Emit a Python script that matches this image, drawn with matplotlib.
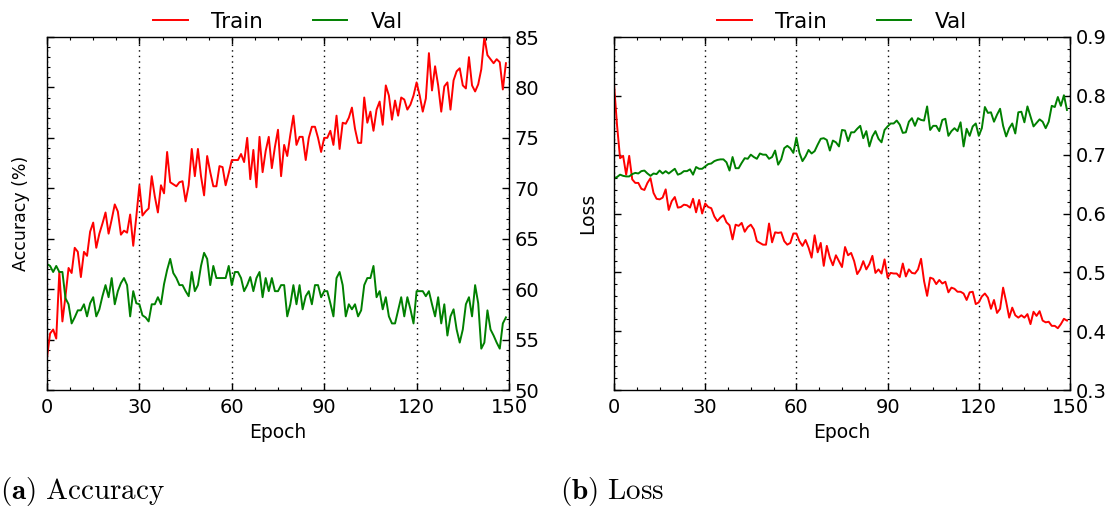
import numpy as np
import matplotlib
matplotlib.use("Agg")
import matplotlib.pyplot as plt
from matplotlib.ticker import MultipleLocator

# Per-epoch training curves (150 epochs)
epochs = np.arange(150)

train_acc = [
    53.2, 55.6, 56.0, 55.1, 61.7, 56.8, 59.3, 62.1, 61.6, 64.1,
    63.7, 61.2, 63.7, 63.3, 65.7, 66.6, 64.1, 65.5, 66.5, 67.6,
    65.5, 66.9, 68.4, 67.7, 65.4, 65.8, 65.6, 67.4, 64.3, 67.2,
    70.3, 67.3, 67.7, 68.0, 71.2, 69.2, 67.6, 70.3, 69.5, 73.6,
    70.6, 70.4, 70.2, 70.6, 70.7, 68.7, 70.3, 73.9, 71.2, 73.9,
    71.2, 69.3, 73.2, 71.6, 70.2, 70.2, 72.2, 72.1, 70.3, 71.5,
    72.8, 72.8, 72.8, 73.4, 72.6, 75.0, 70.9, 73.8, 70.1, 75.1,
    71.6, 73.7, 75.1, 72.0, 74.1, 75.8, 71.2, 74.3, 73.2, 75.3,
    77.2, 74.3, 75.1, 75.1, 72.8, 75.0, 76.1, 76.1, 75.0, 73.6,
    75.0, 75.0, 75.7, 74.3, 77.2, 73.9, 76.5, 76.4, 77.0, 78.0,
    75.9, 74.5, 74.5, 79.0, 76.5, 77.6, 75.7, 77.8, 78.6, 76.3,
    80.2, 79.2, 76.8, 78.7, 77.2, 79.0, 78.8, 77.8, 78.3, 79.2,
    80.5, 79.2, 77.6, 78.9, 83.4, 79.7, 82.1, 80.2, 77.6, 80.1,
    80.5, 77.8, 80.7, 81.6, 81.9, 80.2, 79.9, 83.0, 80.2, 79.6,
    80.3, 81.8, 85.0, 83.2, 82.8, 82.4, 82.8, 82.5, 79.8, 82.4,
]

val_acc = [
    62.5, 62.3, 61.7, 62.3, 61.7, 61.7, 59.1, 58.5, 56.6, 57.2,
    57.9, 57.9, 58.5, 57.3, 58.6, 59.2, 57.3, 58.0, 59.3, 60.4,
    59.2, 61.1, 58.5, 59.8, 60.6, 61.1, 60.4, 57.3, 59.8, 58.6,
    58.5, 57.4, 57.2, 56.8, 58.5, 58.5, 59.2, 58.5, 60.5, 61.9,
    63.0, 61.6, 61.1, 60.4, 60.4, 59.8, 59.3, 61.7, 59.8, 60.4,
    62.3, 63.6, 63.0, 60.4, 62.3, 61.1, 61.1, 61.1, 61.1, 62.3,
    60.4, 61.7, 61.7, 61.1, 59.8, 60.4, 61.2, 59.8, 61.1, 61.7,
    59.2, 61.1, 59.8, 61.1, 59.8, 59.8, 60.4, 60.4, 57.3, 58.5,
    60.4, 58.5, 60.4, 58.0, 59.3, 59.8, 58.5, 60.4, 60.4, 59.2,
    59.8, 59.8, 58.6, 57.3, 61.1, 61.7, 60.4, 57.3, 58.5, 58.0,
    58.5, 57.3, 57.9, 60.4, 61.1, 61.1, 62.3, 59.2, 59.8, 58.0,
    59.2, 57.3, 56.6, 56.6, 57.9, 59.2, 57.3, 59.2, 58.0, 56.6,
    59.8, 59.8, 59.8, 59.3, 59.8, 58.5, 57.3, 59.2, 56.6, 58.5,
    55.4, 57.3, 58.0, 56.0, 54.7, 56.0, 58.5, 59.2, 57.3, 60.4,
    58.6, 54.1, 54.7, 57.9, 56.0, 55.4, 54.7, 54.1, 56.6, 57.2,
]

train_loss = [
    0.820, 0.750, 0.694, 0.698, 0.666, 0.698, 0.658, 0.652, 0.652, 0.642,
    0.640, 0.652, 0.660, 0.635, 0.625, 0.624, 0.627, 0.641, 0.606, 0.621,
    0.628, 0.610, 0.611, 0.615, 0.614, 0.610, 0.625, 0.602, 0.623, 0.600,
    0.617, 0.611, 0.609, 0.595, 0.587, 0.593, 0.597, 0.585, 0.580, 0.556,
    0.581, 0.579, 0.584, 0.569, 0.577, 0.581, 0.573, 0.553, 0.550, 0.547,
    0.547, 0.583, 0.551, 0.568, 0.567, 0.568, 0.553, 0.547, 0.550, 0.566,
    0.566, 0.553, 0.545, 0.555, 0.542, 0.525, 0.563, 0.534, 0.550, 0.511,
    0.545, 0.525, 0.512, 0.529, 0.519, 0.509, 0.543, 0.529, 0.533, 0.519,
    0.497, 0.505, 0.519, 0.505, 0.514, 0.528, 0.499, 0.505, 0.498, 0.522,
    0.491, 0.499, 0.498, 0.498, 0.492, 0.515, 0.493, 0.505, 0.499, 0.498,
    0.505, 0.523, 0.485, 0.460, 0.491, 0.489, 0.480, 0.487, 0.481, 0.484,
    0.466, 0.474, 0.472, 0.467, 0.467, 0.464, 0.453, 0.466, 0.467, 0.446,
    0.449, 0.459, 0.464, 0.457, 0.438, 0.453, 0.431, 0.438, 0.474, 0.450,
    0.423, 0.440, 0.427, 0.423, 0.427, 0.423, 0.429, 0.412, 0.433, 0.426,
    0.434, 0.418, 0.415, 0.416, 0.409, 0.409, 0.405, 0.412, 0.421, 0.418,
]

val_loss = [
    0.660, 0.662, 0.666, 0.664, 0.663, 0.663, 0.667, 0.669, 0.668, 0.672,
    0.673, 0.668, 0.664, 0.668, 0.667, 0.673, 0.668, 0.672, 0.668, 0.672,
    0.676, 0.666, 0.668, 0.672, 0.672, 0.675, 0.666, 0.679, 0.676, 0.676,
    0.680, 0.684, 0.685, 0.689, 0.691, 0.692, 0.692, 0.687, 0.673, 0.696,
    0.677, 0.677, 0.686, 0.694, 0.693, 0.700, 0.696, 0.693, 0.702, 0.700,
    0.700, 0.693, 0.696, 0.707, 0.683, 0.692, 0.711, 0.715, 0.711, 0.703,
    0.729, 0.703, 0.689, 0.697, 0.708, 0.702, 0.706, 0.717, 0.727, 0.728,
    0.725, 0.707, 0.724, 0.721, 0.714, 0.742, 0.741, 0.723, 0.738, 0.738,
    0.744, 0.749, 0.728, 0.740, 0.714, 0.731, 0.740, 0.727, 0.721, 0.742,
    0.748, 0.753, 0.753, 0.758, 0.751, 0.737, 0.738, 0.756, 0.762, 0.749,
    0.762, 0.759, 0.758, 0.782, 0.742, 0.749, 0.749, 0.740, 0.759, 0.761,
    0.732, 0.740, 0.745, 0.740, 0.755, 0.714, 0.744, 0.732, 0.748, 0.753,
    0.732, 0.745, 0.781, 0.771, 0.772, 0.756, 0.768, 0.778, 0.749, 0.731,
    0.745, 0.753, 0.736, 0.772, 0.773, 0.755, 0.782, 0.765, 0.748, 0.754,
    0.760, 0.756, 0.745, 0.756, 0.783, 0.781, 0.798, 0.783, 0.801, 0.776,
]

plt.rcParams["mathtext.fontset"] = "cm"
plt.rcParams["font.family"] = "DejaVu Sans"

fig = plt.figure(figsize=(11.11, 5.07), dpi=100, facecolor="white")
ax_acc = fig.add_axes([47 / 1111, 1 - 390 / 507, 462 / 1111, 353 / 507])
ax_loss = fig.add_axes([614 / 1111, 1 - 390 / 507, 456 / 1111, 353 / 507])


def style_axes(ax, ylim, ymajor, yminor, ylabel, ylabel_size):
    ax.set_xlim(0, 150)
    ax.set_ylim(*ylim)
    ax.xaxis.set_major_locator(MultipleLocator(30))
    ax.xaxis.set_minor_locator(MultipleLocator(7.5))
    ax.yaxis.set_major_locator(MultipleLocator(ymajor))
    ax.yaxis.set_minor_locator(MultipleLocator(yminor))
    ax.tick_params(axis="both", which="both", direction="in",
                   top=True, bottom=True, left=True, right=True,
                   labelleft=False, labelright=True, colors="black")
    ax.tick_params(axis="both", which="major", length=5, width=1, labelsize=14)
    ax.tick_params(axis="both", which="minor", length=2.5, width=0.8)
    ax.tick_params(axis="x", which="major", pad=6)
    ax.tick_params(axis="y", which="major", pad=4)
    ax.grid(True, axis="x", which="major", linestyle=(0, (1, 3)),
            color="black", linewidth=1.0)
    for sp in ax.spines.values():
        sp.set_linewidth(1.0)
    ax.set_xlabel("Epoch", fontsize=13.5, labelpad=4)
    ax.set_ylabel(ylabel, fontsize=ylabel_size, labelpad=12)
    ax.legend(loc="lower center", bbox_to_anchor=(0.5, 0.99), ncol=2,
              frameon=False, fontsize=15.5, handlelength=1.6,
              handletextpad=1.1, columnspacing=2.3, borderaxespad=0.0)


ax_acc.plot(epochs, train_acc, color="#ff0000", lw=1.4, label="Train")
ax_acc.plot(epochs, val_acc, color="#008000", lw=1.4, label="Val")
style_axes(ax_acc, (50, 85), 5, 1, "Accuracy (%)", 12.5)

ax_loss.plot(epochs, train_loss, color="#ff0000", lw=1.4, label="Train")
ax_loss.plot(epochs, val_loss, color="#008000", lw=1.4, label="Val")
style_axes(ax_loss, (0.3, 0.9), 0.1, 0.02, "Loss", 13.5)

fig.text(0.0, 0.015, r"$\mathbf{(a)}\ \mathrm{Accuracy}$", fontsize=21,
         ha="left", va="baseline")
fig.text(0.504, 0.015, r"$\mathbf{(b)}\ \mathrm{Loss}$", fontsize=21,
         ha="left", va="baseline")

fig.savefig("out.png", dpi=100, facecolor="white")
